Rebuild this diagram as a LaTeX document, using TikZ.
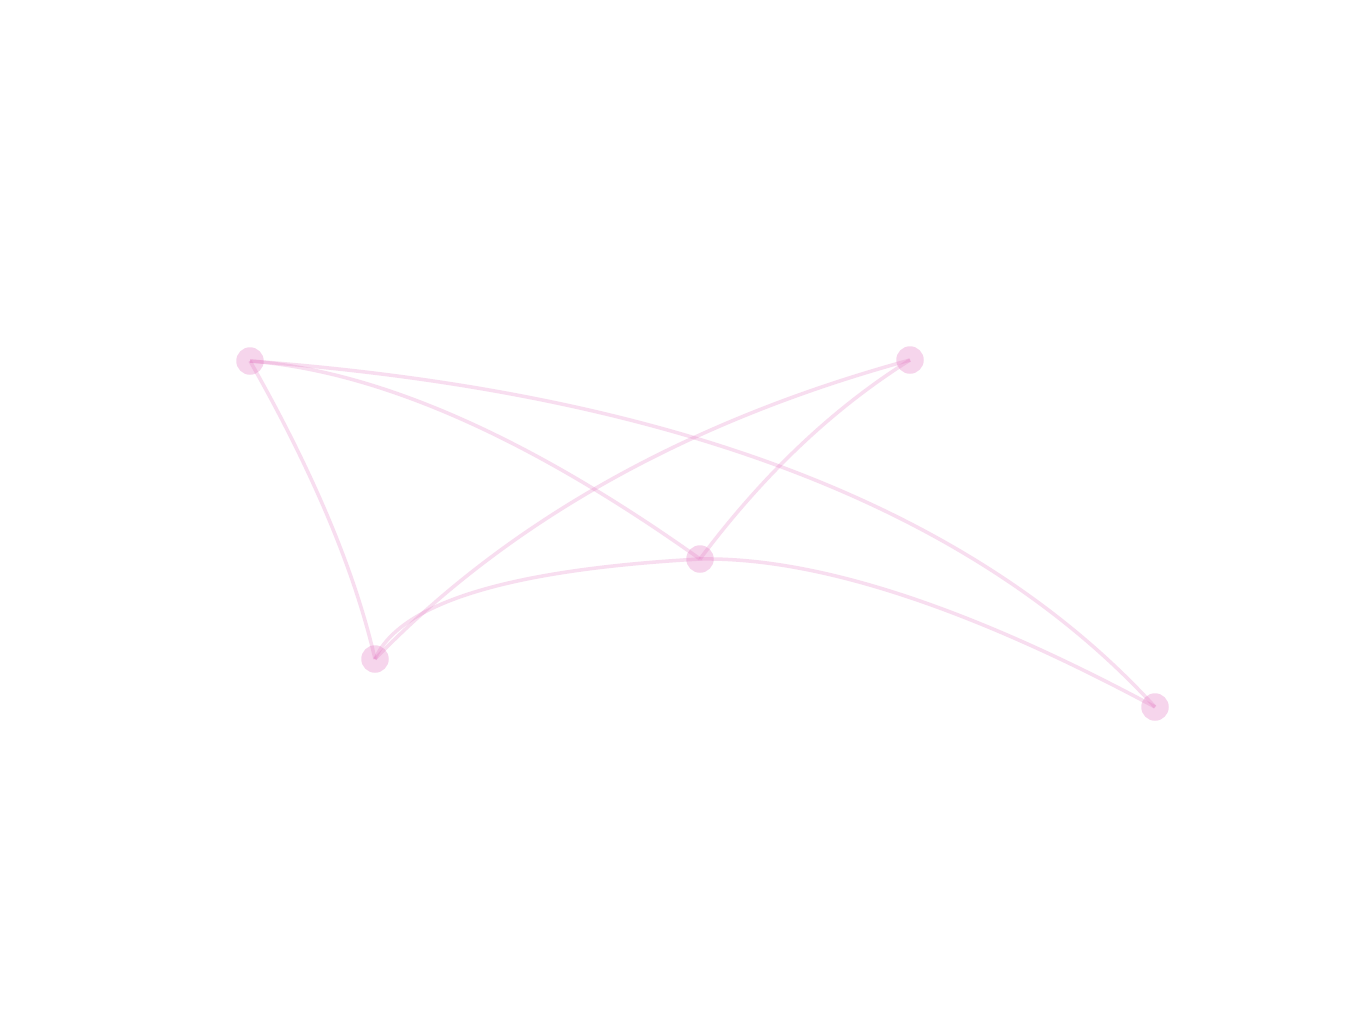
\documentclass[tikz,border=0pt]{standalone}
\usetikzlibrary{calc}
\definecolor{tabpink}{HTML}{E377C2}
\tikzset{
  vtx/.style={circle, fill=tabpink, fill opacity=0.3, draw=none, minimum size=0.55cm, inner sep=0pt},
  edgeline/.style={draw=tabpink, draw opacity=0.24, line width=2pt},
}
\begin{document}
\begin{tikzpicture}[x=0.02cm, y=-0.02cm]
\useasboundingbox[fill=white] (0,0) rectangle (1372,1019);
% nodes
\node[vtx] (A) at (250,361) {};
\node[vtx] (B) at (910,360) {};
\node[vtx] (C) at (700,559) {};
\node[vtx] (D) at (375,659) {};
\node[vtx] (E) at (1155,707) {};
% bend points of the edges
\coordinate (qAD) at (345,528);
\coordinate (qAC) at (443,376);
\coordinate (qAE) at (882,408);
\coordinate (qBD) at (577,451);
\coordinate (qBC) at (795,432);
\coordinate (qDC) at (412,575);
\coordinate (qCE) at (874,556);
% edges
\draw[edgeline] (A.center) .. controls ($(A.center)!2/3!(qAD)$) and ($(D.center)!2/3!(qAD)$) .. (D.center);
\draw[edgeline] (A.center) .. controls ($(A.center)!2/3!(qAC)$) and ($(C.center)!2/3!(qAC)$) .. (C.center);
\draw[edgeline] (A.center) .. controls ($(A.center)!2/3!(qAE)$) and ($(E.center)!2/3!(qAE)$) .. (E.center);
\draw[edgeline] (B.center) .. controls ($(B.center)!2/3!(qBD)$) and ($(D.center)!2/3!(qBD)$) .. (D.center);
\draw[edgeline] (B.center) .. controls ($(B.center)!2/3!(qBC)$) and ($(C.center)!2/3!(qBC)$) .. (C.center);
\draw[edgeline] (D.center) .. controls ($(D.center)!2/3!(qDC)$) and ($(C.center)!2/3!(qDC)$) .. (C.center);
\draw[edgeline] (C.center) .. controls ($(C.center)!2/3!(qCE)$) and ($(E.center)!2/3!(qCE)$) .. (E.center);
\end{tikzpicture}
\end{document}
